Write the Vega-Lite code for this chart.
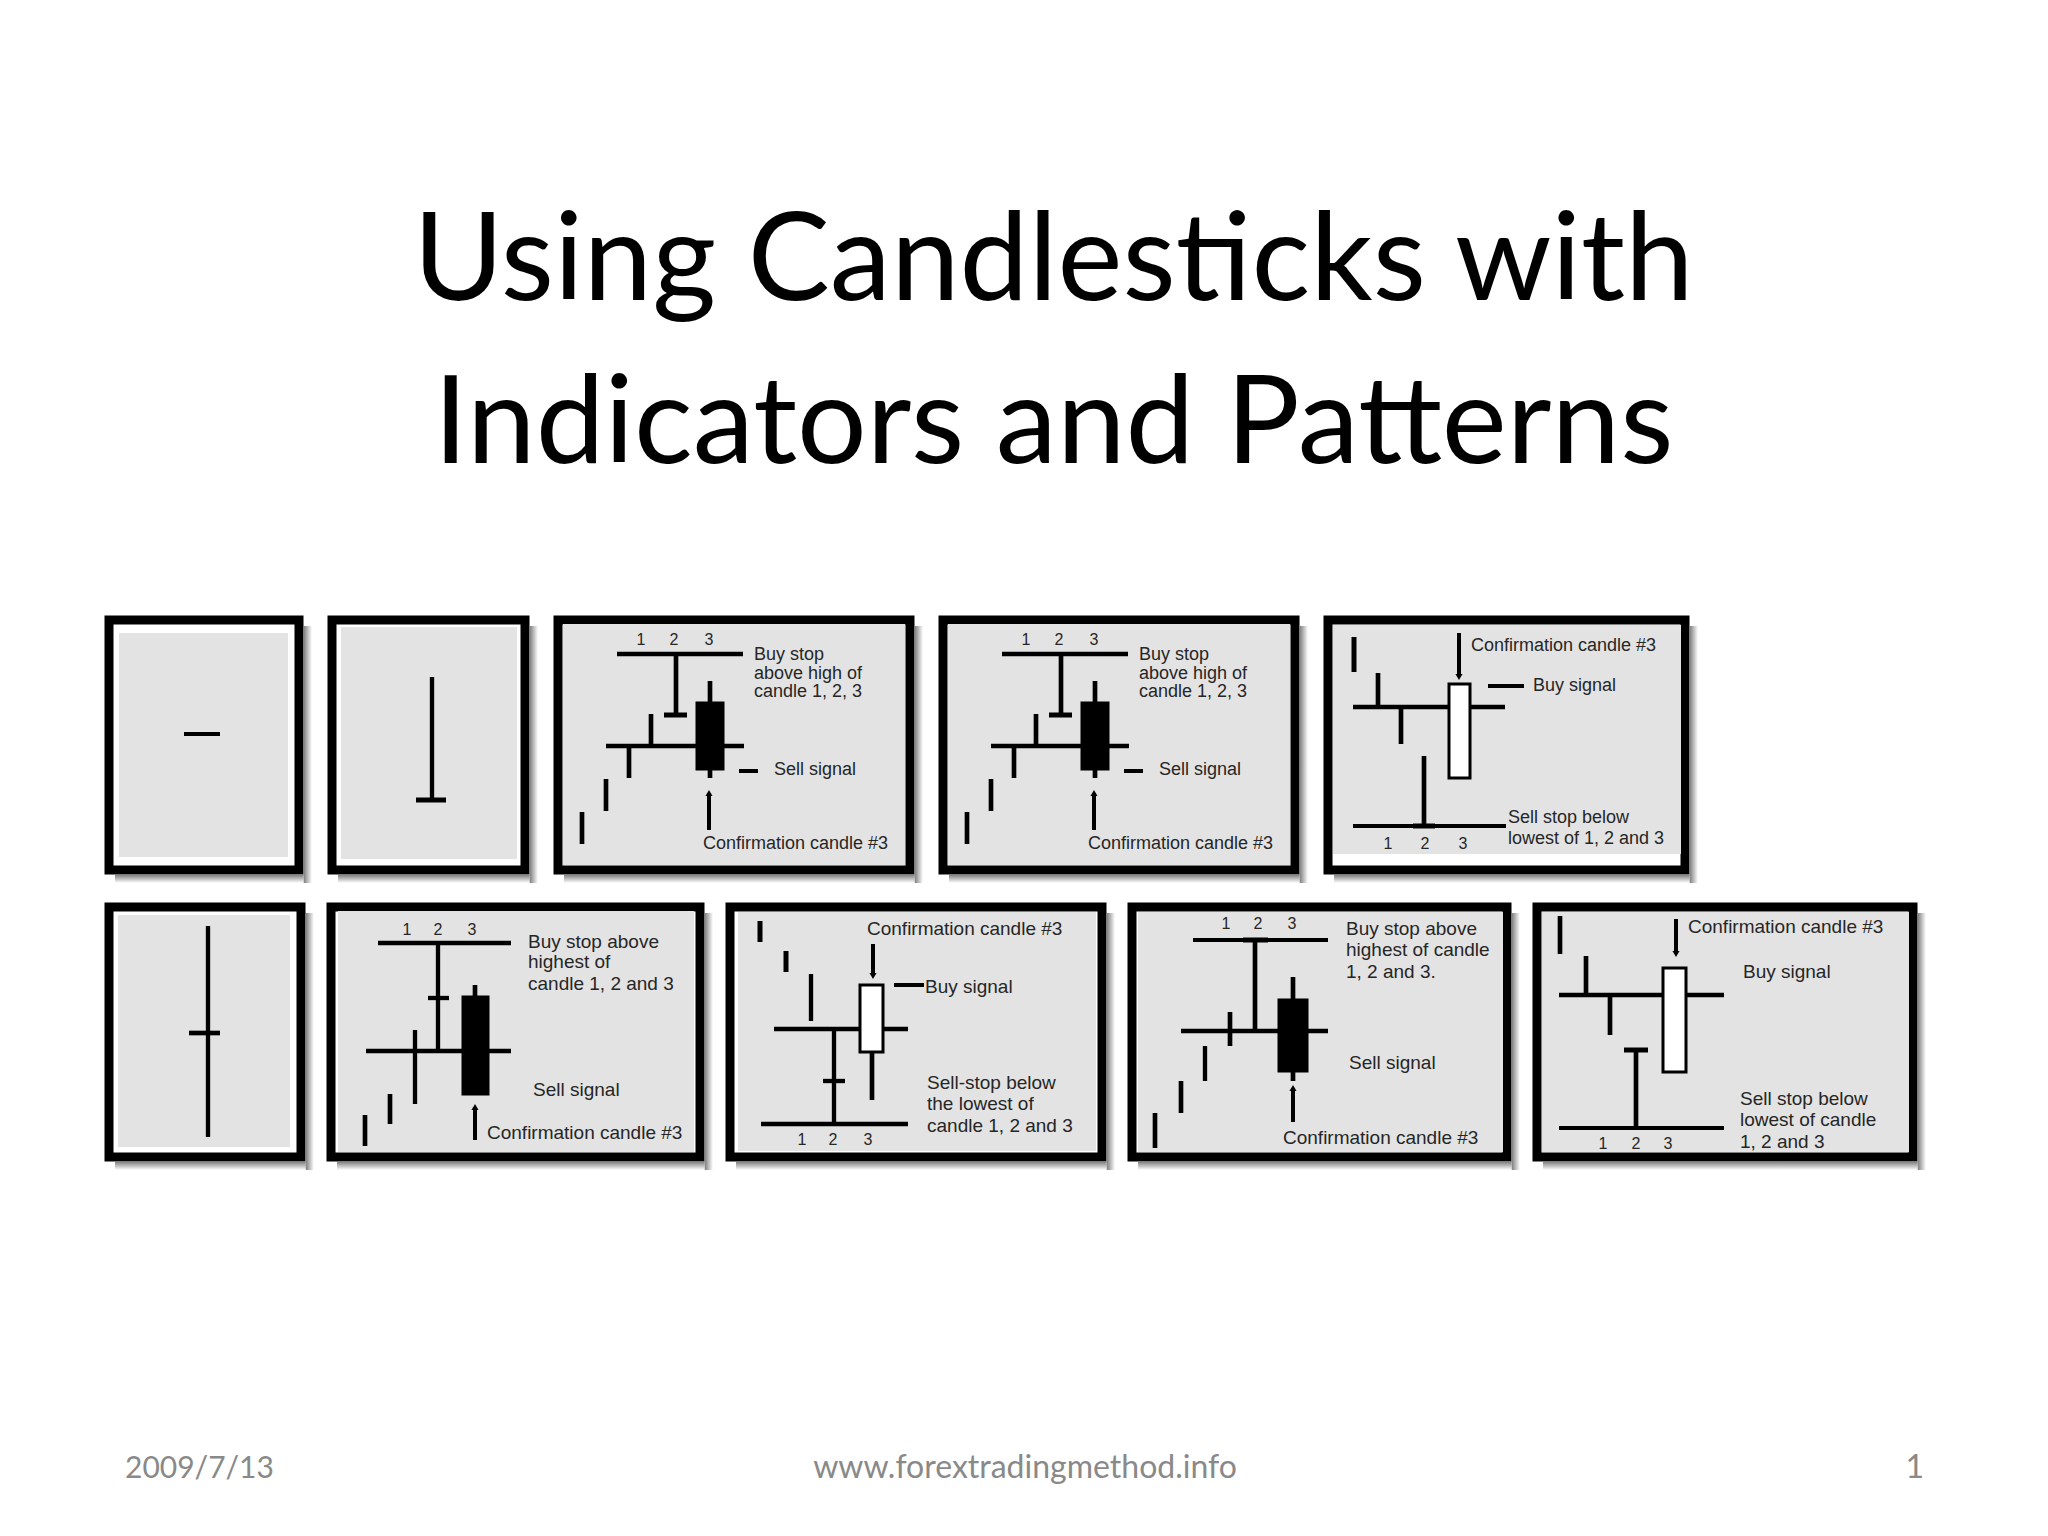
{
"$schema": "https://vega.github.io/schema/vega-lite/v6.json",
"background": "white",
"padding": {"left": 104, "top": 201, "right": 10, "bottom": 10},
"title": {"text": ["Using Candlesticks with", "Indicators and Patterns"], "font": "Lato", "fontSize": 123, "fontWeight": "normal", "lineHeight": 163, "anchor": "middle", "baseline": "top", "offset": 127, "dx": 36, "color": "black"},
"spacing": 277,
"bounds": "full",
"datasets": {
"p1": [{"kind":"shR","t":194.5,"t2":203,"p":-13,"p2":244},{"kind":"shB","t":6,"t2":194.5,"p":-4.5,"p2":-13},{"kind":"bg","t":10,"t2":179,"p":13,"p2":237},{"kind":"thin","t":75,"t2":111,"p":136,"p2":136}],
"p2": [{"kind":"shR","t":197.5,"t2":206,"p":-13,"p2":244},{"kind":"shB","t":6,"t2":197.5,"p":-4.5,"p2":-13},{"kind":"bg","t":9,"t2":185,"p":11,"p2":243},{"kind":"lvl","t":100,"t2":100,"p":70,"p2":193},{"kind":"bar","t":84,"t2":114,"p":70,"p2":70}],
"p3": [{"kind":"shR","t":356.5,"t2":365,"p":-13,"p2":244},{"kind":"shB","t":6,"t2":356.5,"p":-4.5,"p2":-13},{"kind":"bg","t":5,"t2":347,"p":5,"p2":246},
{"kind":"lvl","t":59,"t2":185,"p":216,"p2":216},
{"kind":"wick","t":118,"t2":118,"p":155,"p2":216},
{"kind":"bar","t":106,"t2":129,"p":155,"p2":155},
{"kind":"wick","t":93,"t2":93,"p":124,"p2":156},
{"kind":"lvl","t":48,"t2":186,"p":124,"p2":124},
{"kind":"wick","t":71,"t2":71,"p":92,"p2":124},
{"kind":"wick","t":48,"t2":48,"p":59,"p2":91},
{"kind":"wick","t":24,"t2":24,"p":26,"p2":58},
{"kind":"wick","t":152,"t2":152,"p":92,"p2":189},
{"kind":"bodyB","t":139,"t2":165,"p":101,"p2":167},
{"kind":"thin","t":181,"t2":200,"p":99,"p2":99},
{"kind":"thin","t":151,"t2":151,"p":40,"p2":77},
{"kind":"up","t":151,"p":77},
{"kind":"txt","t":196,"p":215,"label":"Buy stop"},
{"kind":"txt","t":196,"p":196,"label":"above high of"},
{"kind":"txt","t":196,"p":178,"label":"candle 1, 2, 3"},
{"kind":"txt","t":216,"p":100,"label":"Sell signal"},
{"kind":"txt","t":145,"p":26,"label":"Confirmation candle #3"},
{"kind":"num","t":83,"p":230,"label":"1"},
{"kind":"num","t":116,"p":230,"label":"2"},
{"kind":"num","t":151,"p":230,"label":"3"}],
"p5": [{"kind":"shR","t":361.5,"t2":370,"p":-13,"p2":244},{"kind":"shB","t":6,"t2":361.5,"p":-4.5,"p2":-13},{"kind":"bg","t":5,"t2":353,"p":16,"p2":245},
{"kind":"bar","t":26,"t2":26,"p":198,"p2":233},
{"kind":"wick","t":50,"t2":50,"p":163,"p2":197},
{"kind":"lvl","t":25,"t2":177,"p":163,"p2":163},
{"kind":"wick","t":73,"t2":73,"p":126,"p2":163},
{"kind":"wick","t":96,"t2":96,"p":44,"p2":114},
{"kind":"bar","t":85,"t2":107,"p":44,"p2":44},
{"kind":"thin","t":25,"t2":178,"p":44,"p2":44},
{"kind":"bodyW","t":121,"t2":142,"p":92,"p2":186},
{"kind":"thin","t":131,"t2":131,"p":193,"p2":237},
{"kind":"down","t":131,"p":193},
{"kind":"thin","t":160,"t2":196,"p":184,"p2":184},
{"kind":"txt","t":143,"p":224,"label":"Confirmation candle #3"},
{"kind":"txt","t":205,"p":184,"label":"Buy signal"},
{"kind":"txt","t":180,"p":52,"label":"Sell stop below"},
{"kind":"txt","t":180,"p":31,"label":"lowest of 1, 2 and 3"},
{"kind":"num","t":60,"p":26,"label":"1"},
{"kind":"num","t":97,"p":26,"label":"2"},
{"kind":"num","t":135,"p":26,"label":"3"}],
"q1": [{"kind":"shR","t":196.5,"t2":205,"p":-13,"p2":244},{"kind":"shB","t":6,"t2":196.5,"p":-4.5,"p2":-13},{"kind":"bg","t":9,"t2":181,"p":10,"p2":242},{"kind":"lvl","t":99,"t2":99,"p":20,"p2":231},{"kind":"wick","t":80,"t2":111,"p":124,"p2":124}],
"q2": [{"kind":"shR","t":373.5,"t2":382,"p":-13,"p2":244},{"kind":"shB","t":6,"t2":373.5,"p":-4.5,"p2":-13},{"kind":"bg","t":7,"t2":363,"p":5,"p2":246},
{"kind":"lvl","t":47,"t2":180,"p":214,"p2":214},
{"kind":"lvl","t":107,"t2":107,"p":106,"p2":214},
{"kind":"lvl","t":97,"t2":118,"p":159,"p2":159},
{"kind":"lvl","t":35,"t2":180,"p":106,"p2":106},
{"kind":"lvl","t":84,"t2":84,"p":53,"p2":127},
{"kind":"wick","t":59,"t2":59,"p":33,"p2":63},
{"kind":"wick","t":34,"t2":34,"p":11,"p2":42},
{"kind":"wick","t":144,"t2":144,"p":159,"p2":172},
{"kind":"bodyB","t":132,"t2":157,"p":63,"p2":160},
{"kind":"thin","t":144,"t2":144,"p":17,"p2":50},
{"kind":"up","t":144,"p":50},
{"kind":"txt","t":197,"p":215,"label":"Buy stop above"},
{"kind":"txt","t":197,"p":195,"label":"highest of"},
{"kind":"txt","t":197,"p":173,"label":"candle 1, 2 and 3"},
{"kind":"txt","t":202,"p":67,"label":"Sell signal"},
{"kind":"txt","t":156,"p":24,"label":"Confirmation candle #3"},
{"kind":"num","t":76,"p":227,"label":"1"},
{"kind":"num","t":107,"p":227,"label":"2"},
{"kind":"num","t":141,"p":227,"label":"3"}],
"q3": [{"kind":"shR","t":376.5,"t2":385,"p":-13,"p2":244},{"kind":"shB","t":6,"t2":376.5,"p":-4.5,"p2":-13},{"kind":"bg","t":8,"t2":366,"p":6,"p2":245},
{"kind":"bar","t":30,"t2":30,"p":215,"p2":236},
{"kind":"bar","t":56,"t2":56,"p":185,"p2":206},
{"kind":"lvl","t":81,"t2":81,"p":136,"p2":183},
{"kind":"lvl","t":44,"t2":178,"p":128,"p2":128},
{"kind":"lvl","t":104,"t2":104,"p":33,"p2":128},
{"kind":"lvl","t":93,"t2":115,"p":76,"p2":76},
{"kind":"lvl","t":31,"t2":178,"p":33,"p2":33},
{"kind":"wick","t":142,"t2":142,"p":57,"p2":105},
{"kind":"bodyW","t":130,"t2":153,"p":105,"p2":172},
{"kind":"thin","t":143,"t2":143,"p":184,"p2":213},
{"kind":"down","t":143,"p":181},
{"kind":"thin","t":164,"t2":194,"p":172,"p2":172},
{"kind":"txt","t":137,"p":228,"label":"Confirmation candle #3"},
{"kind":"txt","t":195,"p":170,"label":"Buy signal"},
{"kind":"txt","t":197,"p":74,"label":"Sell-stop below"},
{"kind":"txt","t":197,"p":53,"label":"the lowest of"},
{"kind":"txt","t":197,"p":31,"label":"candle 1, 2 and 3"},
{"kind":"num","t":72,"p":17,"label":"1"},
{"kind":"num","t":103,"p":17,"label":"2"},
{"kind":"num","t":138,"p":17,"label":"3"}],
"q4": [{"kind":"shR","t":379.5,"t2":388,"p":-13,"p2":244},{"kind":"shB","t":6,"t2":379.5,"p":-4.5,"p2":-13},{"kind":"bg","t":6,"t2":371,"p":5,"p2":245},
{"kind":"thin","t":61,"t2":196,"p":217,"p2":217},
{"kind":"bar","t":111,"t2":136,"p":217,"p2":217},
{"kind":"wick","t":123,"t2":123,"p":126,"p2":217},
{"kind":"lvl","t":49,"t2":196,"p":126,"p2":126},
{"kind":"wick","t":98,"t2":98,"p":111,"p2":145},
{"kind":"lvl","t":73,"t2":73,"p":76,"p2":111},
{"kind":"wick","t":49,"t2":49,"p":44,"p2":76},
{"kind":"wick","t":23,"t2":23,"p":9,"p2":44},
{"kind":"wick","t":161,"t2":161,"p":76,"p2":180},
{"kind":"bodyB","t":147,"t2":175,"p":86,"p2":157},
{"kind":"thin","t":161,"t2":161,"p":35,"p2":69},
{"kind":"up","t":161,"p":69},
{"kind":"txt","t":214,"p":228,"label":"Buy stop above"},
{"kind":"txt","t":214,"p":207,"label":"highest of candle"},
{"kind":"txt","t":214,"p":185,"label":"1, 2 and 3."},
{"kind":"txt","t":217,"p":94,"label":"Sell signal"},
{"kind":"txt","t":151,"p":19,"label":"Confirmation candle #3"},
{"kind":"num","t":94,"p":233,"label":"1"},
{"kind":"num","t":126,"p":233,"label":"2"},
{"kind":"num","t":160,"p":233,"label":"3"}],
"q5": [{"kind":"shR","t":380.5,"t2":389,"p":-13,"p2":244},{"kind":"shB","t":6,"t2":380.5,"p":-4.5,"p2":-13},{"kind":"bg","t":5,"t2":372,"p":5,"p2":245},
{"kind":"wick","t":23,"t2":23,"p":203,"p2":241},
{"kind":"wick","t":49,"t2":49,"p":162,"p2":201},
{"kind":"lvl","t":22,"t2":187,"p":162,"p2":162},
{"kind":"wick","t":73,"t2":73,"p":122,"p2":162},
{"kind":"bar","t":87,"t2":111,"p":107,"p2":107},
{"kind":"wick","t":99,"t2":99,"p":30,"p2":107},
{"kind":"thin","t":22,"t2":187,"p":29,"p2":29},
{"kind":"bodyW","t":126,"t2":149,"p":85,"p2":189},
{"kind":"thin","t":139,"t2":139,"p":206,"p2":238},
{"kind":"down","t":139,"p":203},
{"kind":"txt","t":151,"p":230,"label":"Confirmation candle #3"},
{"kind":"txt","t":206,"p":185,"label":"Buy signal"},
{"kind":"txt","t":203,"p":58,"label":"Sell stop below"},
{"kind":"txt","t":203,"p":37,"label":"lowest of candle"},
{"kind":"txt","t":203,"p":15,"label":"1, 2 and 3"},
{"kind":"num","t":66,"p":13,"label":"1"},
{"kind":"num","t":99,"p":13,"label":"2"},
{"kind":"num","t":131,"p":13,"label":"3"}],
"foot": [{"slot":"left","label":"2009/7/13"},{"slot":"center","label":"www.forextradingmethod.info"},{"slot":"right","label":"1"}]
},
"vconcat": [
{"vconcat": [
{"hconcat": [
{"width": 190, "height": 250, "data": {"name": "p1"},
 "encoding": {"x": {"field": "t", "type": "quantitative", "scale": {"domain": [0, 190], "nice": false, "zero": false}, "axis": null}, "y": {"field": "p", "type": "quantitative", "scale": {"domain": [0, 250], "nice": false, "zero": false}, "axis": null}},
 "layer": [
  {"transform": [{"filter": "datum.kind == 'shR'"}], "mark": {"type": "rect", "fill": {"gradient": "linear", "x1": 0, "y1": 0, "x2": 1, "y2": 0, "stops": [{"offset": 0, "color": "#7a7a7a"}, {"offset": 1, "color": "#ffffff"}]}}, "encoding": {"x2": {"field": "t2"}, "y2": {"field": "p2"}}},
  {"transform": [{"filter": "datum.kind == 'shB'"}], "mark": {"type": "rect", "fill": {"gradient": "linear", "x1": 0, "y1": 0, "x2": 0, "y2": 1, "stops": [{"offset": 0, "color": "#7a7a7a"}, {"offset": 1, "color": "#ffffff"}]}}, "encoding": {"x2": {"field": "t2"}, "y2": {"field": "p2"}}},
  {"transform": [{"filter": "datum.kind == 'bg'"}], "mark": {"type": "rect", "fill": "#e3e3e3"}, "encoding": {"x2": {"field": "t2"}, "y2": {"field": "p2"}}},
  {"transform": [{"filter": "indexof(['bar','wick','lvl','thin'], datum.kind) >= 0"}], "mark": {"type": "rule", "color": "black"}, "encoding": {"x2": {"field": "t2"}, "y2": {"field": "p2"}, "strokeWidth": {"field": "kind", "type": "nominal", "scale": {"domain": ["bar","wick","lvl","thin"], "range": [5,4,3,1.5]}, "legend": null}}}
 ]},
{"width": 193, "height": 250, "data": {"name": "p2"},
 "encoding": {"x": {"field": "t", "type": "quantitative", "scale": {"domain": [0, 193], "nice": false, "zero": false}, "axis": null}, "y": {"field": "p", "type": "quantitative", "scale": {"domain": [0, 250], "nice": false, "zero": false}, "axis": null}},
 "layer": [
  {"transform": [{"filter": "datum.kind == 'shR'"}], "mark": {"type": "rect", "fill": {"gradient": "linear", "x1": 0, "y1": 0, "x2": 1, "y2": 0, "stops": [{"offset": 0, "color": "#7a7a7a"}, {"offset": 1, "color": "#ffffff"}]}}, "encoding": {"x2": {"field": "t2"}, "y2": {"field": "p2"}}},
  {"transform": [{"filter": "datum.kind == 'shB'"}], "mark": {"type": "rect", "fill": {"gradient": "linear", "x1": 0, "y1": 0, "x2": 0, "y2": 1, "stops": [{"offset": 0, "color": "#7a7a7a"}, {"offset": 1, "color": "#ffffff"}]}}, "encoding": {"x2": {"field": "t2"}, "y2": {"field": "p2"}}},
  {"transform": [{"filter": "datum.kind == 'bg'"}], "mark": {"type": "rect", "fill": "#e3e3e3"}, "encoding": {"x2": {"field": "t2"}, "y2": {"field": "p2"}}},
  {"transform": [{"filter": "indexof(['bar','wick','lvl','thin'], datum.kind) >= 0"}], "mark": {"type": "rule", "color": "black"}, "encoding": {"x2": {"field": "t2"}, "y2": {"field": "p2"}, "strokeWidth": {"field": "kind", "type": "nominal", "scale": {"domain": ["bar","wick","lvl","thin"], "range": [5,4,3,1.5]}, "legend": null}}}
 ]},
{"width": 352, "height": 250, "data": {"name": "p3"},
 "encoding": {"x": {"field": "t", "type": "quantitative", "scale": {"domain": [0, 352], "nice": false, "zero": false}, "axis": null}, "y": {"field": "p", "type": "quantitative", "scale": {"domain": [0, 250], "nice": false, "zero": false}, "axis": null}},
 "layer": [
  {"transform": [{"filter": "datum.kind == 'shR'"}], "mark": {"type": "rect", "fill": {"gradient": "linear", "x1": 0, "y1": 0, "x2": 1, "y2": 0, "stops": [{"offset": 0, "color": "#7a7a7a"}, {"offset": 1, "color": "#ffffff"}]}}, "encoding": {"x2": {"field": "t2"}, "y2": {"field": "p2"}}},
  {"transform": [{"filter": "datum.kind == 'shB'"}], "mark": {"type": "rect", "fill": {"gradient": "linear", "x1": 0, "y1": 0, "x2": 0, "y2": 1, "stops": [{"offset": 0, "color": "#7a7a7a"}, {"offset": 1, "color": "#ffffff"}]}}, "encoding": {"x2": {"field": "t2"}, "y2": {"field": "p2"}}},
  {"transform": [{"filter": "datum.kind == 'bg'"}], "mark": {"type": "rect", "fill": "#e3e3e3"}, "encoding": {"x2": {"field": "t2"}, "y2": {"field": "p2"}}},
  {"transform": [{"filter": "indexof(['bar','wick','lvl','thin'], datum.kind) >= 0"}], "mark": {"type": "rule", "color": "black"}, "encoding": {"x2": {"field": "t2"}, "y2": {"field": "p2"}, "strokeWidth": {"field": "kind", "type": "nominal", "scale": {"domain": ["bar","wick","lvl","thin"], "range": [5,4,3,1.5]}, "legend": null}}},
  {"transform": [{"filter": "datum.kind == 'bodyB' || datum.kind == 'bodyW'"}], "mark": {"type": "rect", "stroke": "black", "strokeWidth": 3}, "encoding": {"x2": {"field": "t2"}, "y2": {"field": "p2"}, "fill": {"field": "kind", "type": "nominal", "scale": {"domain": ["bodyB","bodyW"], "range": ["black","white"]}, "legend": null}}},
  {"transform": [{"filter": "datum.kind == 'up' || datum.kind == 'down'"}], "mark": {"type": "point", "filled": true, "color": "black", "opacity": 1, "size": 50}, "encoding": {"shape": {"field": "kind", "type": "nominal", "scale": {"domain": ["up","down"], "range": ["triangle-up","triangle-down"]}, "legend": null}}},
  {"transform": [{"filter": "datum.kind == 'txt'"}], "mark": {"type": "text", "align": "left", "baseline": "middle", "fontSize": 18, "color": "#262626"}, "encoding": {"text": {"field": "label", "type": "nominal"}}},
  {"transform": [{"filter": "datum.kind == 'num'"}], "mark": {"type": "text", "align": "center", "baseline": "middle", "fontSize": 16, "color": "#262626"}, "encoding": {"text": {"field": "label", "type": "nominal"}}}
 ]},
{"width": 352, "height": 250, "data": {"name": "p3"},
 "encoding": {"x": {"field": "t", "type": "quantitative", "scale": {"domain": [0, 352], "nice": false, "zero": false}, "axis": null}, "y": {"field": "p", "type": "quantitative", "scale": {"domain": [0, 250], "nice": false, "zero": false}, "axis": null}},
 "layer": [
  {"transform": [{"filter": "datum.kind == 'shR'"}], "mark": {"type": "rect", "fill": {"gradient": "linear", "x1": 0, "y1": 0, "x2": 1, "y2": 0, "stops": [{"offset": 0, "color": "#7a7a7a"}, {"offset": 1, "color": "#ffffff"}]}}, "encoding": {"x2": {"field": "t2"}, "y2": {"field": "p2"}}},
  {"transform": [{"filter": "datum.kind == 'shB'"}], "mark": {"type": "rect", "fill": {"gradient": "linear", "x1": 0, "y1": 0, "x2": 0, "y2": 1, "stops": [{"offset": 0, "color": "#7a7a7a"}, {"offset": 1, "color": "#ffffff"}]}}, "encoding": {"x2": {"field": "t2"}, "y2": {"field": "p2"}}},
  {"transform": [{"filter": "datum.kind == 'bg'"}], "mark": {"type": "rect", "fill": "#e3e3e3"}, "encoding": {"x2": {"field": "t2"}, "y2": {"field": "p2"}}},
  {"transform": [{"filter": "indexof(['bar','wick','lvl','thin'], datum.kind) >= 0"}], "mark": {"type": "rule", "color": "black"}, "encoding": {"x2": {"field": "t2"}, "y2": {"field": "p2"}, "strokeWidth": {"field": "kind", "type": "nominal", "scale": {"domain": ["bar","wick","lvl","thin"], "range": [5,4,3,1.5]}, "legend": null}}},
  {"transform": [{"filter": "datum.kind == 'bodyB' || datum.kind == 'bodyW'"}], "mark": {"type": "rect", "stroke": "black", "strokeWidth": 3}, "encoding": {"x2": {"field": "t2"}, "y2": {"field": "p2"}, "fill": {"field": "kind", "type": "nominal", "scale": {"domain": ["bodyB","bodyW"], "range": ["black","white"]}, "legend": null}}},
  {"transform": [{"filter": "datum.kind == 'up' || datum.kind == 'down'"}], "mark": {"type": "point", "filled": true, "color": "black", "opacity": 1, "size": 50}, "encoding": {"shape": {"field": "kind", "type": "nominal", "scale": {"domain": ["up","down"], "range": ["triangle-up","triangle-down"]}, "legend": null}}},
  {"transform": [{"filter": "datum.kind == 'txt'"}], "mark": {"type": "text", "align": "left", "baseline": "middle", "fontSize": 18, "color": "#262626"}, "encoding": {"text": {"field": "label", "type": "nominal"}}},
  {"transform": [{"filter": "datum.kind == 'num'"}], "mark": {"type": "text", "align": "center", "baseline": "middle", "fontSize": 16, "color": "#262626"}, "encoding": {"text": {"field": "label", "type": "nominal"}}}
 ]},
{"width": 357, "height": 250, "data": {"name": "p5"},
 "encoding": {"x": {"field": "t", "type": "quantitative", "scale": {"domain": [0, 357], "nice": false, "zero": false}, "axis": null}, "y": {"field": "p", "type": "quantitative", "scale": {"domain": [0, 250], "nice": false, "zero": false}, "axis": null}},
 "layer": [
  {"transform": [{"filter": "datum.kind == 'shR'"}], "mark": {"type": "rect", "fill": {"gradient": "linear", "x1": 0, "y1": 0, "x2": 1, "y2": 0, "stops": [{"offset": 0, "color": "#7a7a7a"}, {"offset": 1, "color": "#ffffff"}]}}, "encoding": {"x2": {"field": "t2"}, "y2": {"field": "p2"}}},
  {"transform": [{"filter": "datum.kind == 'shB'"}], "mark": {"type": "rect", "fill": {"gradient": "linear", "x1": 0, "y1": 0, "x2": 0, "y2": 1, "stops": [{"offset": 0, "color": "#7a7a7a"}, {"offset": 1, "color": "#ffffff"}]}}, "encoding": {"x2": {"field": "t2"}, "y2": {"field": "p2"}}},
  {"transform": [{"filter": "datum.kind == 'bg'"}], "mark": {"type": "rect", "fill": "#e3e3e3"}, "encoding": {"x2": {"field": "t2"}, "y2": {"field": "p2"}}},
  {"transform": [{"filter": "indexof(['bar','wick','lvl','thin'], datum.kind) >= 0"}], "mark": {"type": "rule", "color": "black"}, "encoding": {"x2": {"field": "t2"}, "y2": {"field": "p2"}, "strokeWidth": {"field": "kind", "type": "nominal", "scale": {"domain": ["bar","wick","lvl","thin"], "range": [5,4,3,1.5]}, "legend": null}}},
  {"transform": [{"filter": "datum.kind == 'bodyB' || datum.kind == 'bodyW'"}], "mark": {"type": "rect", "stroke": "black", "strokeWidth": 3}, "encoding": {"x2": {"field": "t2"}, "y2": {"field": "p2"}, "fill": {"field": "kind", "type": "nominal", "scale": {"domain": ["bodyB","bodyW"], "range": ["black","white"]}, "legend": null}}},
  {"transform": [{"filter": "datum.kind == 'up' || datum.kind == 'down'"}], "mark": {"type": "point", "filled": true, "color": "black", "opacity": 1, "size": 50}, "encoding": {"shape": {"field": "kind", "type": "nominal", "scale": {"domain": ["up","down"], "range": ["triangle-up","triangle-down"]}, "legend": null}}},
  {"transform": [{"filter": "datum.kind == 'txt'"}], "mark": {"type": "text", "align": "left", "baseline": "middle", "fontSize": 18, "color": "#262626"}, "encoding": {"text": {"field": "label", "type": "nominal"}}},
  {"transform": [{"filter": "datum.kind == 'num'"}], "mark": {"type": "text", "align": "center", "baseline": "middle", "fontSize": 16, "color": "#262626"}, "encoding": {"text": {"field": "label", "type": "nominal"}}}
 ]}
], "spacing": 33, "bounds": "flush"},
{"hconcat": [
{"width": 192, "height": 250, "data": {"name": "q1"},
 "encoding": {"x": {"field": "t", "type": "quantitative", "scale": {"domain": [0, 192], "nice": false, "zero": false}, "axis": null}, "y": {"field": "p", "type": "quantitative", "scale": {"domain": [0, 250], "nice": false, "zero": false}, "axis": null}},
 "layer": [
  {"transform": [{"filter": "datum.kind == 'shR'"}], "mark": {"type": "rect", "fill": {"gradient": "linear", "x1": 0, "y1": 0, "x2": 1, "y2": 0, "stops": [{"offset": 0, "color": "#7a7a7a"}, {"offset": 1, "color": "#ffffff"}]}}, "encoding": {"x2": {"field": "t2"}, "y2": {"field": "p2"}}},
  {"transform": [{"filter": "datum.kind == 'shB'"}], "mark": {"type": "rect", "fill": {"gradient": "linear", "x1": 0, "y1": 0, "x2": 0, "y2": 1, "stops": [{"offset": 0, "color": "#7a7a7a"}, {"offset": 1, "color": "#ffffff"}]}}, "encoding": {"x2": {"field": "t2"}, "y2": {"field": "p2"}}},
  {"transform": [{"filter": "datum.kind == 'bg'"}], "mark": {"type": "rect", "fill": "#e3e3e3"}, "encoding": {"x2": {"field": "t2"}, "y2": {"field": "p2"}}},
  {"transform": [{"filter": "indexof(['bar','wick','lvl','thin'], datum.kind) >= 0"}], "mark": {"type": "rule", "color": "black"}, "encoding": {"x2": {"field": "t2"}, "y2": {"field": "p2"}, "strokeWidth": {"field": "kind", "type": "nominal", "scale": {"domain": ["bar","wick","lvl","thin"], "range": [5,4,3,1.5]}, "legend": null}}}
 ]},
{"width": 369, "height": 250, "data": {"name": "q2"},
 "encoding": {"x": {"field": "t", "type": "quantitative", "scale": {"domain": [0, 369], "nice": false, "zero": false}, "axis": null}, "y": {"field": "p", "type": "quantitative", "scale": {"domain": [0, 250], "nice": false, "zero": false}, "axis": null}},
 "layer": [
  {"transform": [{"filter": "datum.kind == 'shR'"}], "mark": {"type": "rect", "fill": {"gradient": "linear", "x1": 0, "y1": 0, "x2": 1, "y2": 0, "stops": [{"offset": 0, "color": "#7a7a7a"}, {"offset": 1, "color": "#ffffff"}]}}, "encoding": {"x2": {"field": "t2"}, "y2": {"field": "p2"}}},
  {"transform": [{"filter": "datum.kind == 'shB'"}], "mark": {"type": "rect", "fill": {"gradient": "linear", "x1": 0, "y1": 0, "x2": 0, "y2": 1, "stops": [{"offset": 0, "color": "#7a7a7a"}, {"offset": 1, "color": "#ffffff"}]}}, "encoding": {"x2": {"field": "t2"}, "y2": {"field": "p2"}}},
  {"transform": [{"filter": "datum.kind == 'bg'"}], "mark": {"type": "rect", "fill": "#e3e3e3"}, "encoding": {"x2": {"field": "t2"}, "y2": {"field": "p2"}}},
  {"transform": [{"filter": "indexof(['bar','wick','lvl','thin'], datum.kind) >= 0"}], "mark": {"type": "rule", "color": "black"}, "encoding": {"x2": {"field": "t2"}, "y2": {"field": "p2"}, "strokeWidth": {"field": "kind", "type": "nominal", "scale": {"domain": ["bar","wick","lvl","thin"], "range": [5,4,3,1.5]}, "legend": null}}},
  {"transform": [{"filter": "datum.kind == 'bodyB' || datum.kind == 'bodyW'"}], "mark": {"type": "rect", "stroke": "black", "strokeWidth": 3}, "encoding": {"x2": {"field": "t2"}, "y2": {"field": "p2"}, "fill": {"field": "kind", "type": "nominal", "scale": {"domain": ["bodyB","bodyW"], "range": ["black","white"]}, "legend": null}}},
  {"transform": [{"filter": "datum.kind == 'up' || datum.kind == 'down'"}], "mark": {"type": "point", "filled": true, "color": "black", "opacity": 1, "size": 50}, "encoding": {"shape": {"field": "kind", "type": "nominal", "scale": {"domain": ["up","down"], "range": ["triangle-up","triangle-down"]}, "legend": null}}},
  {"transform": [{"filter": "datum.kind == 'txt'"}], "mark": {"type": "text", "align": "left", "baseline": "middle", "fontSize": 19, "color": "#262626"}, "encoding": {"text": {"field": "label", "type": "nominal"}}},
  {"transform": [{"filter": "datum.kind == 'num'"}], "mark": {"type": "text", "align": "center", "baseline": "middle", "fontSize": 16, "color": "#262626"}, "encoding": {"text": {"field": "label", "type": "nominal"}}}
 ]},
{"width": 372, "height": 250, "data": {"name": "q3"},
 "encoding": {"x": {"field": "t", "type": "quantitative", "scale": {"domain": [0, 372], "nice": false, "zero": false}, "axis": null}, "y": {"field": "p", "type": "quantitative", "scale": {"domain": [0, 250], "nice": false, "zero": false}, "axis": null}},
 "layer": [
  {"transform": [{"filter": "datum.kind == 'shR'"}], "mark": {"type": "rect", "fill": {"gradient": "linear", "x1": 0, "y1": 0, "x2": 1, "y2": 0, "stops": [{"offset": 0, "color": "#7a7a7a"}, {"offset": 1, "color": "#ffffff"}]}}, "encoding": {"x2": {"field": "t2"}, "y2": {"field": "p2"}}},
  {"transform": [{"filter": "datum.kind == 'shB'"}], "mark": {"type": "rect", "fill": {"gradient": "linear", "x1": 0, "y1": 0, "x2": 0, "y2": 1, "stops": [{"offset": 0, "color": "#7a7a7a"}, {"offset": 1, "color": "#ffffff"}]}}, "encoding": {"x2": {"field": "t2"}, "y2": {"field": "p2"}}},
  {"transform": [{"filter": "datum.kind == 'bg'"}], "mark": {"type": "rect", "fill": "#e3e3e3"}, "encoding": {"x2": {"field": "t2"}, "y2": {"field": "p2"}}},
  {"transform": [{"filter": "indexof(['bar','wick','lvl','thin'], datum.kind) >= 0"}], "mark": {"type": "rule", "color": "black"}, "encoding": {"x2": {"field": "t2"}, "y2": {"field": "p2"}, "strokeWidth": {"field": "kind", "type": "nominal", "scale": {"domain": ["bar","wick","lvl","thin"], "range": [5,4,3,1.5]}, "legend": null}}},
  {"transform": [{"filter": "datum.kind == 'bodyB' || datum.kind == 'bodyW'"}], "mark": {"type": "rect", "stroke": "black", "strokeWidth": 3}, "encoding": {"x2": {"field": "t2"}, "y2": {"field": "p2"}, "fill": {"field": "kind", "type": "nominal", "scale": {"domain": ["bodyB","bodyW"], "range": ["black","white"]}, "legend": null}}},
  {"transform": [{"filter": "datum.kind == 'up' || datum.kind == 'down'"}], "mark": {"type": "point", "filled": true, "color": "black", "opacity": 1, "size": 50}, "encoding": {"shape": {"field": "kind", "type": "nominal", "scale": {"domain": ["up","down"], "range": ["triangle-up","triangle-down"]}, "legend": null}}},
  {"transform": [{"filter": "datum.kind == 'txt'"}], "mark": {"type": "text", "align": "left", "baseline": "middle", "fontSize": 19, "color": "#262626"}, "encoding": {"text": {"field": "label", "type": "nominal"}}},
  {"transform": [{"filter": "datum.kind == 'num'"}], "mark": {"type": "text", "align": "center", "baseline": "middle", "fontSize": 16, "color": "#262626"}, "encoding": {"text": {"field": "label", "type": "nominal"}}}
 ]},
{"width": 375, "height": 250, "data": {"name": "q4"},
 "encoding": {"x": {"field": "t", "type": "quantitative", "scale": {"domain": [0, 375], "nice": false, "zero": false}, "axis": null}, "y": {"field": "p", "type": "quantitative", "scale": {"domain": [0, 250], "nice": false, "zero": false}, "axis": null}},
 "layer": [
  {"transform": [{"filter": "datum.kind == 'shR'"}], "mark": {"type": "rect", "fill": {"gradient": "linear", "x1": 0, "y1": 0, "x2": 1, "y2": 0, "stops": [{"offset": 0, "color": "#7a7a7a"}, {"offset": 1, "color": "#ffffff"}]}}, "encoding": {"x2": {"field": "t2"}, "y2": {"field": "p2"}}},
  {"transform": [{"filter": "datum.kind == 'shB'"}], "mark": {"type": "rect", "fill": {"gradient": "linear", "x1": 0, "y1": 0, "x2": 0, "y2": 1, "stops": [{"offset": 0, "color": "#7a7a7a"}, {"offset": 1, "color": "#ffffff"}]}}, "encoding": {"x2": {"field": "t2"}, "y2": {"field": "p2"}}},
  {"transform": [{"filter": "datum.kind == 'bg'"}], "mark": {"type": "rect", "fill": "#e3e3e3"}, "encoding": {"x2": {"field": "t2"}, "y2": {"field": "p2"}}},
  {"transform": [{"filter": "indexof(['bar','wick','lvl','thin'], datum.kind) >= 0"}], "mark": {"type": "rule", "color": "black"}, "encoding": {"x2": {"field": "t2"}, "y2": {"field": "p2"}, "strokeWidth": {"field": "kind", "type": "nominal", "scale": {"domain": ["bar","wick","lvl","thin"], "range": [5,4,3,1.5]}, "legend": null}}},
  {"transform": [{"filter": "datum.kind == 'bodyB' || datum.kind == 'bodyW'"}], "mark": {"type": "rect", "stroke": "black", "strokeWidth": 3}, "encoding": {"x2": {"field": "t2"}, "y2": {"field": "p2"}, "fill": {"field": "kind", "type": "nominal", "scale": {"domain": ["bodyB","bodyW"], "range": ["black","white"]}, "legend": null}}},
  {"transform": [{"filter": "datum.kind == 'up' || datum.kind == 'down'"}], "mark": {"type": "point", "filled": true, "color": "black", "opacity": 1, "size": 50}, "encoding": {"shape": {"field": "kind", "type": "nominal", "scale": {"domain": ["up","down"], "range": ["triangle-up","triangle-down"]}, "legend": null}}},
  {"transform": [{"filter": "datum.kind == 'txt'"}], "mark": {"type": "text", "align": "left", "baseline": "middle", "fontSize": 19, "color": "#262626"}, "encoding": {"text": {"field": "label", "type": "nominal"}}},
  {"transform": [{"filter": "datum.kind == 'num'"}], "mark": {"type": "text", "align": "center", "baseline": "middle", "fontSize": 16, "color": "#262626"}, "encoding": {"text": {"field": "label", "type": "nominal"}}}
 ]},
{"width": 376, "height": 250, "data": {"name": "q5"},
 "encoding": {"x": {"field": "t", "type": "quantitative", "scale": {"domain": [0, 376], "nice": false, "zero": false}, "axis": null}, "y": {"field": "p", "type": "quantitative", "scale": {"domain": [0, 250], "nice": false, "zero": false}, "axis": null}},
 "layer": [
  {"transform": [{"filter": "datum.kind == 'shR'"}], "mark": {"type": "rect", "fill": {"gradient": "linear", "x1": 0, "y1": 0, "x2": 1, "y2": 0, "stops": [{"offset": 0, "color": "#7a7a7a"}, {"offset": 1, "color": "#ffffff"}]}}, "encoding": {"x2": {"field": "t2"}, "y2": {"field": "p2"}}},
  {"transform": [{"filter": "datum.kind == 'shB'"}], "mark": {"type": "rect", "fill": {"gradient": "linear", "x1": 0, "y1": 0, "x2": 0, "y2": 1, "stops": [{"offset": 0, "color": "#7a7a7a"}, {"offset": 1, "color": "#ffffff"}]}}, "encoding": {"x2": {"field": "t2"}, "y2": {"field": "p2"}}},
  {"transform": [{"filter": "datum.kind == 'bg'"}], "mark": {"type": "rect", "fill": "#e3e3e3"}, "encoding": {"x2": {"field": "t2"}, "y2": {"field": "p2"}}},
  {"transform": [{"filter": "indexof(['bar','wick','lvl','thin'], datum.kind) >= 0"}], "mark": {"type": "rule", "color": "black"}, "encoding": {"x2": {"field": "t2"}, "y2": {"field": "p2"}, "strokeWidth": {"field": "kind", "type": "nominal", "scale": {"domain": ["bar","wick","lvl","thin"], "range": [5,4,3,1.5]}, "legend": null}}},
  {"transform": [{"filter": "datum.kind == 'bodyB' || datum.kind == 'bodyW'"}], "mark": {"type": "rect", "stroke": "black", "strokeWidth": 3}, "encoding": {"x2": {"field": "t2"}, "y2": {"field": "p2"}, "fill": {"field": "kind", "type": "nominal", "scale": {"domain": ["bodyB","bodyW"], "range": ["black","white"]}, "legend": null}}},
  {"transform": [{"filter": "datum.kind == 'up' || datum.kind == 'down'"}], "mark": {"type": "point", "filled": true, "color": "black", "opacity": 1, "size": 50}, "encoding": {"shape": {"field": "kind", "type": "nominal", "scale": {"domain": ["up","down"], "range": ["triangle-up","triangle-down"]}, "legend": null}}},
  {"transform": [{"filter": "datum.kind == 'txt'"}], "mark": {"type": "text", "align": "left", "baseline": "middle", "fontSize": 19, "color": "#262626"}, "encoding": {"text": {"field": "label", "type": "nominal"}}},
  {"transform": [{"filter": "datum.kind == 'num'"}], "mark": {"type": "text", "align": "center", "baseline": "middle", "fontSize": 16, "color": "#262626"}, "encoding": {"text": {"field": "label", "type": "nominal"}}}
 ]}
], "spacing": 30, "bounds": "flush"}
], "spacing": 14, "bounds": "full"},
{"width": 1804, "height": 40, "view": {"stroke": null, "fill": null}, "data": {"name": "foot"},
 "encoding": {"x": {"field": "slot", "type": "nominal", "scale": {"type": "point", "domain": ["left","center","right"], "padding": 0}, "axis": null}, "text": {"field": "label", "type": "nominal"}},
 "layer": [
  {"transform": [{"filter": "datum.slot == 'left'"}], "mark": {"type": "text", "align": "left", "baseline": "alphabetic", "font": "Lato", "fontSize": 30, "color": "#898989", "dx": 16}},
  {"transform": [{"filter": "datum.slot == 'center'"}], "mark": {"type": "text", "align": "center", "baseline": "alphabetic", "font": "Lato", "fontSize": 32, "color": "#898989", "dx": 14}},
  {"transform": [{"filter": "datum.slot == 'right'"}], "mark": {"type": "text", "align": "right", "baseline": "alphabetic", "font": "Lato", "fontSize": 32, "color": "#898989", "dx": 11}}
 ]}
],
"config": {"view": {"stroke": "black", "strokeWidth": 9, "fill": "white"}, "font": "Liberation Sans"}
}
